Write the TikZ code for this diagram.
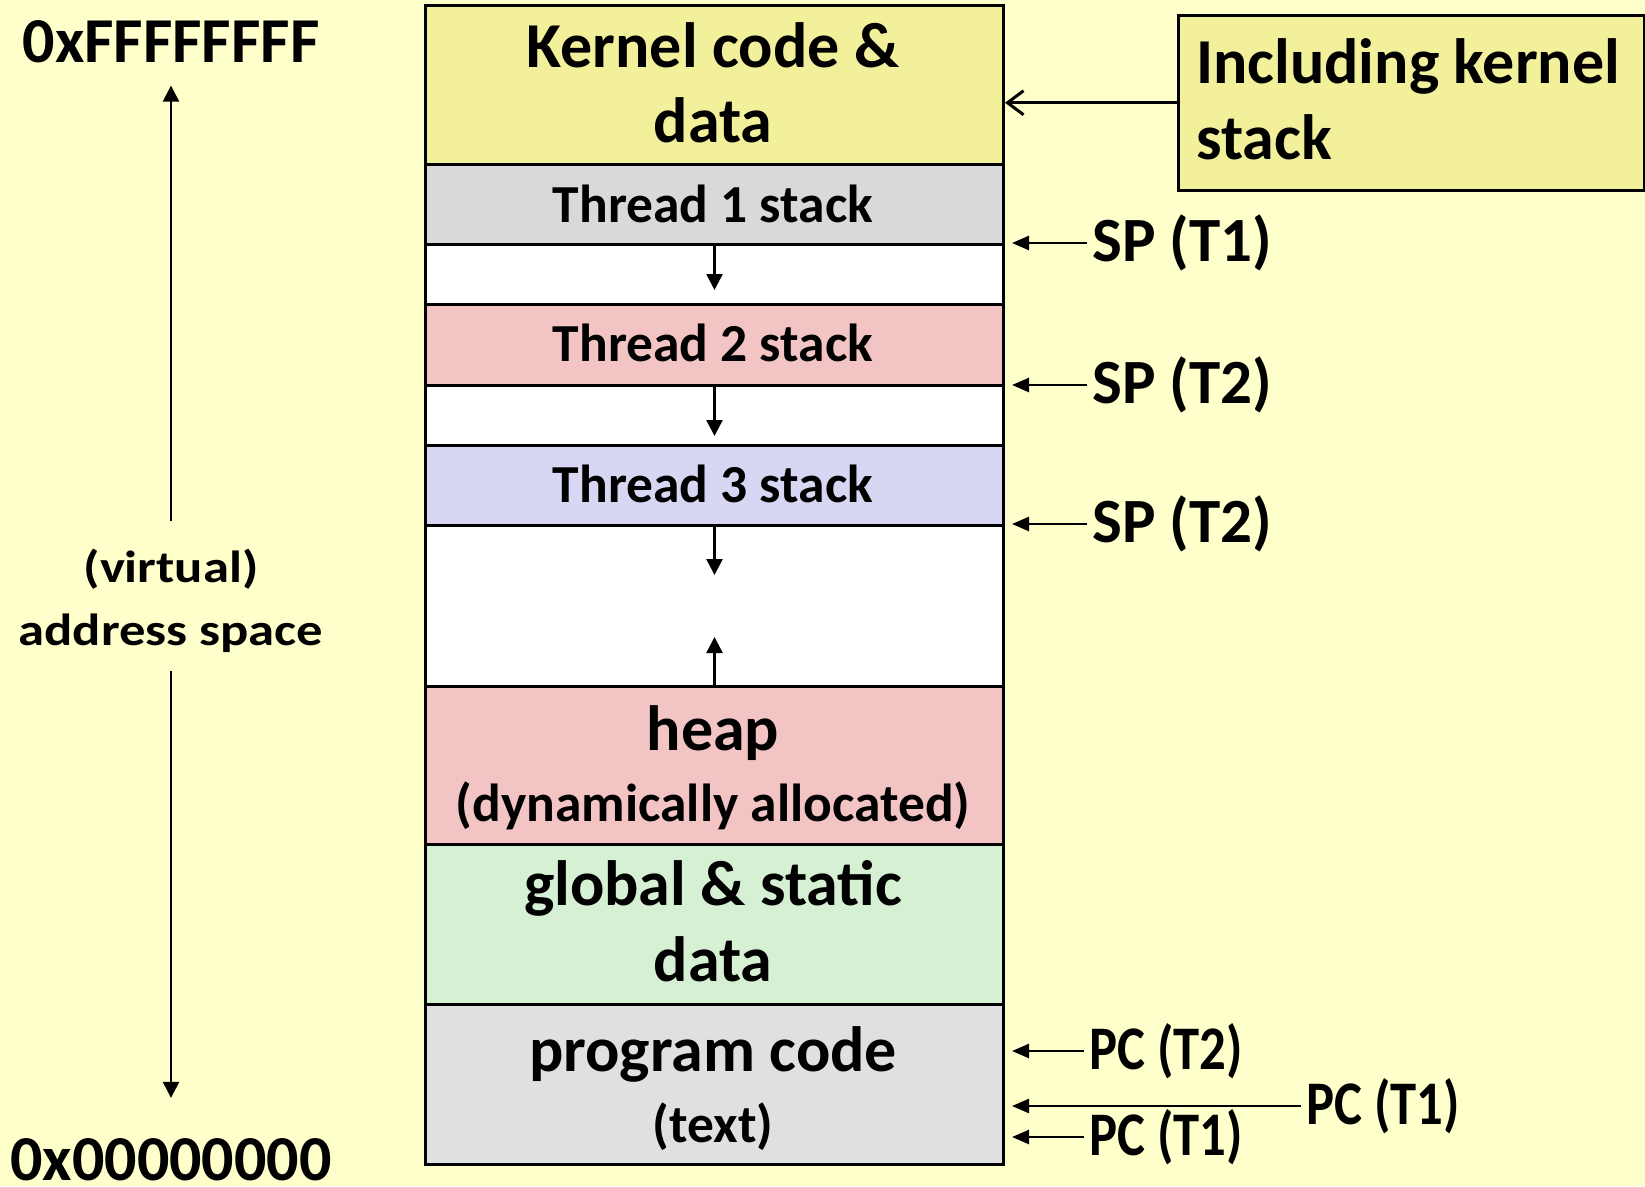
\documentclass[tikz,border=0pt]{standalone}
\usepackage{fontspec}
\setmainfont{Carlito}
\usetikzlibrary{arrows.meta}
\newcommand\setfs[1]{\fontsize{#1}{#1}\selectfont}
\newcommand\widetxt[1]{\scalebox{1.17}[1]{#1}}
\newcommand\narrowtxt[1]{\scalebox{0.85}[1]{#1}}
\definecolor{paper}{HTML}{FFFFCC}
\definecolor{kerncol}{HTML}{F2F09B}
\definecolor{graycol}{HTML}{D9D9D9}
\definecolor{pinkcol}{HTML}{F2C4C4}
\definecolor{bluecol}{HTML}{D7D7F4}
\definecolor{greencol}{HTML}{D6F0D4}
\definecolor{codecol}{HTML}{E0E0E0}
\begin{document}
\begin{tikzpicture}[x=1pt,y=-1pt,
  seg/.style={draw=black, line width=3pt, inner sep=0pt, minimum width=578pt, anchor=north west},
  bigtxt/.style={font=\bfseries\setfs{64}, inner sep=0pt, anchor=base},
  midtxt/.style={font=\bfseries\setfs{53.5}, inner sep=0pt, anchor=base},
  sidetxt/.style={font=\bfseries\setfs{45}, inner sep=0pt, anchor=base},
  ptrlbl/.style={font=\bfseries\setfs{63}, inner sep=0pt, anchor=west},
  pclbl/.style={font=\bfseries\setfs{62}, inner sep=0pt, anchor=west},
  ptr/.style={line width=2.5pt, -{Triangle[length=17pt,width=14pt]}, shorten <=5pt, shorten >=7pt},
  growarrow/.style={line width=2.5pt, -{Triangle[length=16pt,width=16pt]}}]

% page background and fixed frame
\fill[paper] (0,0) rectangle (1645,1186);
\useasboundingbox (0,0) rectangle (1645,1186);

% memory segments, top to bottom
\node[seg, fill=kerncol, minimum height=160pt] (kern) at (424,4) {};
\node[seg, fill=graycol, minimum height=80pt] (t1) at (424,163) {};
\node[seg, fill=white, minimum height=60pt] (g1) at (424,243) {};
\node[seg, fill=pinkcol, minimum height=81pt] (t2) at (424,303) {};
\node[seg, fill=white, minimum height=60pt] (g2) at (424,384) {};
\node[seg, fill=bluecol, minimum height=80pt] (t3) at (424,444) {};
\node[seg, fill=white, minimum height=161pt] (g3) at (424,524) {};
\node[seg, fill=pinkcol, minimum height=158pt] (heap) at (424,685) {};
\node[seg, fill=greencol, minimum height=160pt] (glob) at (424,843) {};
\node[seg, fill=codecol, minimum height=160pt] (prog) at (424,1003) {};

% segment labels
\node[bigtxt] (kernA) at (713,67) {Kernel code \&};
\node[bigtxt] (kernB) at (713,142) {data};
\node[midtxt] (t1l) at (713,222) {Thread 1 stack};
\node[midtxt] (t2l) at (713,361) {Thread 2 stack};
\node[midtxt] (t3l) at (713,502) {Thread 3 stack};
\node[bigtxt] (heapA) at (713,750) {heap};
\node[midtxt] (heapB) at (713,821) {(dynamically allocated)};
\node[bigtxt] (globA) at (713,905) {global \& static};
\node[bigtxt] (globB) at (713,981) {data};
\node[bigtxt] (progA) at (713,1071) {program code};
\node[midtxt] (progB) at (713,1142) {(text)};

% growth directions of the stacks and the heap
\draw[growarrow] (t1.south) -- ([yshift=16pt]g1.south);
\draw[growarrow] (t2.south) -- ([yshift=11pt]g2.south);
\draw[growarrow] (t3.south) -- ([yshift=113pt]g3.south);
\draw[growarrow] (heap.north) -- ([yshift=48pt]heap.north);

% kernel stack callout
\node[draw=black, line width=2.5pt, fill=kerncol, minimum width=466pt, minimum height=175pt,
      anchor=north west, inner sep=0pt] (call) at (1177,14) {};
\node[font=\bfseries\setfs{64}, inner sep=0pt, anchor=base west] (callA) at (1196,83) {Including kernel};
\node[font=\bfseries\setfs{64}, inner sep=0pt, anchor=base west] (callB) at (1196,159) {stack};
\draw[line width=3pt, -{Straight Barb[length=16pt,width=24pt,line width=3pt]}]
  (call.west) -- (call.west -| kern.east);

% stack pointers
\node[ptrlbl] (sp1) at (1092,243) {SP (T1)};
\node[ptrlbl] (sp2) at (1092,385) {SP (T2)};
\node[ptrlbl] (sp3) at (1092,524) {SP (T2)};
\draw[ptr] (sp1.west) -- (sp1.west -| t1.east);
\draw[ptr] (sp2.west) -- (sp2.west -| t2.east);
\draw[ptr] (sp3.west) -- (sp3.west -| t3.east);

% program counters
\node[pclbl] (pcA) at (1089,1051) {\narrowtxt{PC (T2)}};
\node[pclbl] (pcB) at (1306,1106) {\narrowtxt{PC (T1)}};
\node[pclbl] (pcC) at (1089,1137) {\narrowtxt{PC (T1)}};
\draw[ptr] (pcA.west) -- (pcA.west -| prog.east);
\draw[ptr] (pcB.west) -- (pcB.west -| prog.east);
\draw[ptr] (pcC.west) -- (pcC.west -| prog.east);

% address axis
\node[bigtxt] (hi) at (171,62) {0xFFFFFFFF};
\node[sidetxt] (virt) at (171,582) {\widetxt{(virtual)}};
\node[sidetxt] (addr) at (171,645) {\widetxt{address space}};
\node[bigtxt] (lo) at (171,1180) {0x00000000};
\draw[growarrow] ([yshift=27pt]virt.north) -- ([yshift=-23pt]hi.south);
\draw[growarrow] ([yshift=-19pt]addr.south) -- ([yshift=40pt]lo.north);
\end{tikzpicture}
\end{document}
